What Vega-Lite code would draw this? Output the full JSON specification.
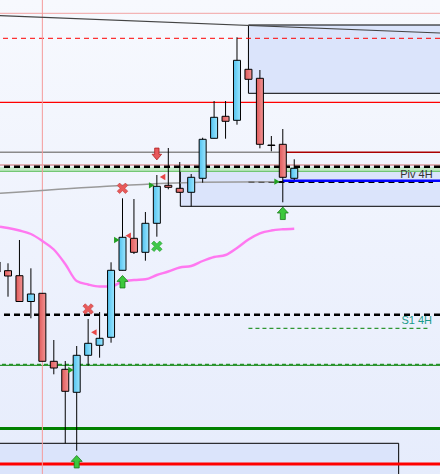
{
"$schema": "https://vega.github.io/schema/vega-lite/v6.json",
"width": 440, "height": 474, "padding": 0,
"autosize": {"type": "none"},
"background": "#f0f4fc",
"config": {"view": {"stroke": null}, "scale": {"continuousPadding": 0}},
"layer": [
{"data": {"values": [{"i": -0.699, "i2": 37.73, "p": 1.07, "p2": 1.1174}]},
 "mark": {"type": "rect", "clip": true, "fill": {"gradient": "linear", "x1": 0, "y1": 0, "x2": 0, "y2": 1, "stops": [{"offset": 0, "color": "#f7f9fe"}, {"offset": 1, "color": "#e6ecfc"}]}},
 "encoding": {"x": {"field": "i", "type": "quantitative", "scale": {"domain": [-0.699, 37.73], "nice": false, "zero": false, "padding": 0}, "axis": null}, "x2": {"field": "i2"},
  "y": {"field": "p", "type": "quantitative", "scale": {"domain": [1.07, 1.1174], "nice": false, "zero": false}, "axis": null}, "y2": {"field": "p2"}}},
{"data": {"values": [{"i": 21, "i2": 37.73, "p": 1.1149, "p2": 1.10807}, {"i": 15.05, "i2": 37.73, "p": 1.10073, "p2": 1.09677}, {"i": -0.699, "i2": 34.12, "p": 1.07307, "p2": 1.07}]},
 "mark": {"type": "rect", "clip": true, "fill": "#dbe4fb"},
 "encoding": {"x": {"field": "i", "type": "quantitative", "scale": {"domain": [-0.699, 37.73], "nice": false, "zero": false, "padding": 0}, "axis": null}, "x2": {"field": "i2"},
  "y": {"field": "p", "type": "quantitative", "scale": {"domain": [1.07, 1.1174], "nice": false, "zero": false}, "axis": null}, "y2": {"field": "p2"}}},
{"data": {"values": [{"i": 21, "i2": 37.73, "p": 1.1149}, {"i": 21, "i2": 37.73, "p": 1.10807}, {"i": 15.05, "i2": 37.73, "p": 1.09677}, {"i": -0.699, "i2": 34.12, "p": 1.07307}]},
 "mark": {"type": "rule", "clip": true, "color": "#000000", "strokeWidth": 1},
 "encoding": {"x": {"field": "i", "type": "quantitative", "scale": {"domain": [-0.699, 37.73], "nice": false, "zero": false, "padding": 0}, "axis": null}, "x2": {"field": "i2"},
  "y": {"field": "p", "type": "quantitative", "scale": {"domain": [1.07, 1.1174], "nice": false, "zero": false}, "axis": null}}},
{"data": {"values": [{"i": 21, "p": 1.1149, "p2": 1.10807}, {"i": 15.05, "p": 1.10073, "p2": 1.09677}, {"i": 34.12, "p": 1.07307, "p2": 1.07}]},
 "mark": {"type": "rule", "clip": true, "color": "#000000", "strokeWidth": 1},
 "encoding": {"x": {"field": "i", "type": "quantitative", "scale": {"domain": [-0.699, 37.73], "nice": false, "zero": false, "padding": 0}, "axis": null},
  "y": {"field": "p", "type": "quantitative", "scale": {"domain": [1.07, 1.1174], "nice": false, "zero": false}, "axis": null}, "y2": {"field": "p2"}}},
{"data": {"values": [{"i": -0.699, "i2": 37.73, "p": 1.10067, "p2": 1.10023}]},
 "mark": {"type": "rect", "clip": true, "fill": "#c3e9c6"},
 "encoding": {"x": {"field": "i", "type": "quantitative", "scale": {"domain": [-0.699, 37.73], "nice": false, "zero": false, "padding": 0}, "axis": null}, "x2": {"field": "i2"},
  "y": {"field": "p", "type": "quantitative", "scale": {"domain": [1.07, 1.1174], "nice": false, "zero": false}, "axis": null}, "y2": {"field": "p2"}}},
{"data": {"values": [{"p": 1.11607}]}, "mark": {"type": "rule", "color": "#f2a3a3", "strokeWidth": 1},
 "encoding": {"y": {"field": "p", "type": "quantitative", "scale": {"domain": [1.07, 1.1174], "nice": false, "zero": false}, "axis": null}}},
{"data": {"values": [{"p": 1.11357}]}, "mark": {"type": "rule", "color": "#ff0000", "strokeWidth": 1, "strokeDash": [5, 4]},
 "encoding": {"y": {"field": "p", "type": "quantitative", "scale": {"domain": [1.07, 1.1174], "nice": false, "zero": false}, "axis": null}}},
{"data": {"values": [{"p": 1.10717}]}, "mark": {"type": "rule", "color": "#ff0000", "strokeWidth": 1.2},
 "encoding": {"y": {"field": "p", "type": "quantitative", "scale": {"domain": [1.07, 1.1174], "nice": false, "zero": false}, "axis": null}}},
{"data": {"values": [{"p": 1.071}]}, "mark": {"type": "rule", "color": "#ff0000", "strokeWidth": 3},
 "encoding": {"y": {"field": "p", "type": "quantitative", "scale": {"domain": [1.07, 1.1174], "nice": false, "zero": false}, "axis": null}}},
{"data": {"values": [{"p": 1.1009}]}, "mark": {"type": "rule", "color": "#d07070", "strokeWidth": 1},
 "encoding": {"y": {"field": "p", "type": "quantitative", "scale": {"domain": [1.07, 1.1174], "nice": false, "zero": false}, "axis": null}}},
{"data": {"values": [{"p": 1.10027}]}, "mark": {"type": "rule", "color": "#5cbf5c", "strokeWidth": 1},
 "encoding": {"y": {"field": "p", "type": "quantitative", "scale": {"domain": [1.07, 1.1174], "nice": false, "zero": false}, "axis": null}}},
{"data": {"values": [{"p": 1.10073}, {"p": 1.08593}]}, "mark": {"type": "rule", "color": "#000000", "strokeWidth": 2.5, "strokeDash": [6, 4]},
 "encoding": {"y": {"field": "p", "type": "quantitative", "scale": {"domain": [1.07, 1.1174], "nice": false, "zero": false}, "axis": null}}},
{"data": {"values": [{"p": 1.08087}]}, "mark": {"type": "rule", "color": "#008000", "strokeWidth": 1},
 "encoding": {"y": {"field": "p", "type": "quantitative", "scale": {"domain": [1.07, 1.1174], "nice": false, "zero": false}, "axis": null}}},
{"data": {"values": [{"p": 1.08097}]}, "mark": {"type": "rule", "color": "#008000", "strokeWidth": 1, "strokeDash": [4, 3]},
 "encoding": {"y": {"field": "p", "type": "quantitative", "scale": {"domain": [1.07, 1.1174], "nice": false, "zero": false}, "axis": null}}},
{"data": {"values": [{"p": 1.07455}]}, "mark": {"type": "rule", "color": "#008000", "strokeWidth": 3},
 "encoding": {"y": {"field": "p", "type": "quantitative", "scale": {"domain": [1.07, 1.1174], "nice": false, "zero": false}, "axis": null}}},
{"data": {"values": [{"i": -0.699, "i2": 24, "p": 1.10217}]}, "mark": {"type": "rule", "clip": true, "color": "#8a8a8a", "strokeWidth": 1.5},
 "encoding": {"x": {"field": "i", "type": "quantitative", "scale": {"domain": [-0.699, 37.73], "nice": false, "zero": false, "padding": 0}, "axis": null}, "x2": {"field": "i2"},
  "y": {"field": "p", "type": "quantitative", "scale": {"domain": [1.07, 1.1174], "nice": false, "zero": false}, "axis": null}}},
{"data": {"values": [{"i": 24, "i2": 37.73, "p": 1.10217}]}, "mark": {"type": "rule", "clip": true, "color": "#aa0000", "strokeWidth": 1.5},
 "encoding": {"x": {"field": "i", "type": "quantitative", "scale": {"domain": [-0.699, 37.73], "nice": false, "zero": false, "padding": 0}, "axis": null}, "x2": {"field": "i2"},
  "y": {"field": "p", "type": "quantitative", "scale": {"domain": [1.07, 1.1174], "nice": false, "zero": false}, "axis": null}}},
{"data": {"values": [{"i": 21, "i2": 37.12, "p": 1.0992}]}, "mark": {"type": "rule", "clip": true, "color": "#000000", "strokeWidth": 2, "strokeDash": [6, 4]},
 "encoding": {"x": {"field": "i", "type": "quantitative", "scale": {"domain": [-0.699, 37.73], "nice": false, "zero": false, "padding": 0}, "axis": null}, "x2": {"field": "i2"},
  "y": {"field": "p", "type": "quantitative", "scale": {"domain": [1.07, 1.1174], "nice": false, "zero": false}, "axis": null}}},
{"data": {"values": [{"i": 24, "i2": 37.73, "p": 1.09933}]}, "mark": {"type": "rule", "clip": true, "color": "#0000ff", "strokeWidth": 2.5},
 "encoding": {"x": {"field": "i", "type": "quantitative", "scale": {"domain": [-0.699, 37.73], "nice": false, "zero": false, "padding": 0}, "axis": null}, "x2": {"field": "i2"},
  "y": {"field": "p", "type": "quantitative", "scale": {"domain": [1.07, 1.1174], "nice": false, "zero": false}, "axis": null}}},
{"data": {"values": [{"i": 21, "i2": 36.71, "p": 1.08457}]}, "mark": {"type": "rule", "clip": true, "color": "#008000", "strokeWidth": 1, "strokeDash": [4, 3]},
 "encoding": {"x": {"field": "i", "type": "quantitative", "scale": {"domain": [-0.699, 37.73], "nice": false, "zero": false, "padding": 0}, "axis": null}, "x2": {"field": "i2"},
  "y": {"field": "p", "type": "quantitative", "scale": {"domain": [1.07, 1.1174], "nice": false, "zero": false}, "axis": null}}},
{"data": {"values": [{"i": 3}]}, "mark": {"type": "rule", "color": "#f59a9a", "strokeWidth": 1},
 "encoding": {"x": {"field": "i", "type": "quantitative", "scale": {"domain": [-0.699, 37.73], "nice": false, "zero": false, "padding": 0}, "axis": null}}},
{"data": {"values": [{"i": -0.699, "p": 1.11583}, {"i": 37.73, "p": 1.1141}]}, "mark": {"type": "line", "clip": true, "color": "#444444", "strokeWidth": 1.2},
 "encoding": {"x": {"field": "i", "type": "quantitative", "scale": {"domain": [-0.699, 37.73], "nice": false, "zero": false, "padding": 0}, "axis": null},
  "y": {"field": "p", "type": "quantitative", "scale": {"domain": [1.07, 1.1174], "nice": false, "zero": false}, "axis": null}}},
{"data": {"values": [{"i": -0.699, "p": 1.09807}, {"i": 8.03, "p": 1.09873}, {"i": 16.77, "p": 1.09918}, {"i": 23.49, "p": 1.09923}]}, "mark": {"type": "line", "clip": true, "color": "#9a9a9a", "strokeWidth": 1.5, "interpolate": "monotone"},
 "encoding": {"x": {"field": "i", "type": "quantitative", "scale": {"domain": [-0.699, 37.73], "nice": false, "zero": false, "padding": 0}, "axis": null},
  "y": {"field": "p", "type": "quantitative", "scale": {"domain": [1.07, 1.1174], "nice": false, "zero": false}, "axis": null}}},
{"data": {"values": [
  {"i": -0.699, "p": 1.09473}, {"i": 0, "p": 1.0946}, {"i": 1, "p": 1.09435}, {"i": 2, "p": 1.094}, {"i": 3, "p": 1.0933},
  {"i": 4, "p": 1.09245}, {"i": 5, "p": 1.091}, {"i": 6, "p": 1.0893}, {"i": 7, "p": 1.08895}, {"i": 8, "p": 1.08875},
  {"i": 9, "p": 1.08875}, {"i": 10, "p": 1.08925}, {"i": 11, "p": 1.0894}, {"i": 12, "p": 1.08947}, {"i": 13, "p": 1.0899},
  {"i": 14, "p": 1.09025}, {"i": 15, "p": 1.09065}, {"i": 16, "p": 1.0908}, {"i": 17, "p": 1.0913}, {"i": 18, "p": 1.0917},
  {"i": 19, "p": 1.0919}, {"i": 20, "p": 1.0926}, {"i": 21, "p": 1.09345}, {"i": 22, "p": 1.09407}, {"i": 23, "p": 1.09435},
  {"i": 24, "p": 1.09447}, {"i": 25, "p": 1.09453}]},
 "mark": {"type": "line", "clip": true, "color": "#ff78f0", "strokeWidth": 2.4, "interpolate": "monotone"},
 "encoding": {"x": {"field": "i", "type": "quantitative", "scale": {"domain": [-0.699, 37.73], "nice": false, "zero": false, "padding": 0}, "axis": null},
  "y": {"field": "p", "type": "quantitative", "scale": {"domain": [1.07, 1.1174], "nice": false, "zero": false}, "axis": null}}},
{"data": {"name": "candles", "values": [
  {"i": -1, "o": 1.0912, "c": 1.0902, "h": 1.0912, "l": 1.0902, "d": "down"},
  {"i": 0, "o": 1.09033, "c": 1.0898, "h": 1.09107, "l": 1.08773, "d": "down"},
  {"i": 1, "o": 1.08983, "c": 1.08725, "h": 1.0934, "l": 1.08725, "d": "down"},
  {"i": 2, "o": 1.08725, "c": 1.088, "h": 1.09057, "l": 1.08557, "d": "up"},
  {"i": 3, "o": 1.08807, "c": 1.08127, "h": 1.08807, "l": 1.08127, "d": "down"},
  {"i": 4, "o": 1.08127, "c": 1.0806, "h": 1.0834, "l": 1.07997, "d": "down"},
  {"i": 5, "o": 1.08047, "c": 1.07827, "h": 1.0813, "l": 1.07307, "d": "down"},
  {"i": 6, "o": 1.07817, "c": 1.08187, "h": 1.0828, "l": 1.07233, "d": "up"},
  {"i": 7, "o": 1.08187, "c": 1.08307, "h": 1.0855, "l": 1.08083, "d": "up"},
  {"i": 8, "o": 1.08287, "c": 1.08357, "h": 1.0862, "l": 1.08163, "d": "up"},
  {"i": 9, "o": 1.08367, "c": 1.09037, "h": 1.09117, "l": 1.08313, "d": "up"},
  {"i": 10, "o": 1.09037, "c": 1.09367, "h": 1.09757, "l": 1.09037, "d": "up"},
  {"i": 11, "o": 1.09357, "c": 1.09217, "h": 1.0975, "l": 1.092, "d": "down"},
  {"i": 12, "o": 1.09217, "c": 1.09507, "h": 1.0962, "l": 1.09133, "d": "up"},
  {"i": 13, "o": 1.09507, "c": 1.09877, "h": 1.0999, "l": 1.09373, "d": "up"},
  {"i": 14, "o": 1.09887, "c": 1.09867, "h": 1.1026, "l": 1.09847, "d": "down"},
  {"i": 15, "o": 1.09857, "c": 1.09817, "h": 1.1012, "l": 1.0981, "d": "down"},
  {"i": 16, "o": 1.09817, "c": 1.09967, "h": 1.1, "l": 1.09677, "d": "up"},
  {"i": 17, "o": 1.09957, "c": 1.10347, "h": 1.10363, "l": 1.09913, "d": "up"},
  {"i": 18, "o": 1.10357, "c": 1.10567, "h": 1.1073, "l": 1.10357, "d": "up"},
  {"i": 19, "o": 1.10577, "c": 1.10527, "h": 1.1073, "l": 1.10353, "d": "down"},
  {"i": 20, "o": 1.10537, "c": 1.11137, "h": 1.11367, "l": 1.10493, "d": "up"},
  {"i": 21, "o": 1.11047, "c": 1.10947, "h": 1.11047, "l": 1.10947, "d": "down"},
  {"i": 22, "o": 1.10957, "c": 1.10297, "h": 1.1104, "l": 1.10257, "d": "down"},
  {"i": 23, "o": 1.1029, "c": 1.10285, "h": 1.1038, "l": 1.10227, "d": "doji"},
  {"i": 24, "o": 1.10297, "c": 1.09967, "h": 1.1045, "l": 1.09717, "d": "down"},
  {"i": 25, "o": 1.09957, "c": 1.10057, "h": 1.10147, "l": 1.0994, "d": "up"}]},
 "layer": [
  {"mark": {"type": "rule", "clip": true, "color": "#000000", "strokeWidth": 1},
   "encoding": {"x": {"field": "i", "type": "quantitative", "scale": {"domain": [-0.699, 37.73], "nice": false, "zero": false, "padding": 0}, "axis": null},
    "y": {"field": "h", "type": "quantitative", "scale": {"domain": [1.07, 1.1174], "nice": false, "zero": false}, "axis": null}, "y2": {"field": "l"}}},
  {"transform": [{"filter": "datum.d === 'up'"}],
   "mark": {"type": "bar", "clip": true, "orient": "vertical", "width": 7, "stroke": "#000000", "strokeWidth": 1, "fill": {"gradient": "linear", "x1": 0, "y1": 0, "x2": 1, "y2": 0, "stops": [{"offset": 0, "color": "#52c2ef"}, {"offset": 1, "color": "#9be6ff"}]}},
   "encoding": {"x": {"field": "i", "type": "quantitative", "scale": {"domain": [-0.699, 37.73], "nice": false, "zero": false, "padding": 0}, "axis": null},
    "y": {"field": "o", "type": "quantitative", "scale": {"domain": [1.07, 1.1174], "nice": false, "zero": false}, "axis": null}, "y2": {"field": "c"}}},
  {"transform": [{"filter": "datum.d === 'down'"}],
   "mark": {"type": "bar", "clip": true, "orient": "vertical", "width": 7, "stroke": "#000000", "strokeWidth": 1, "fill": {"gradient": "linear", "x1": 0, "y1": 0, "x2": 1, "y2": 0, "stops": [{"offset": 0, "color": "#e05a5a"}, {"offset": 1, "color": "#f29494"}]}},
   "encoding": {"x": {"field": "i", "type": "quantitative", "scale": {"domain": [-0.699, 37.73], "nice": false, "zero": false, "padding": 0}, "axis": null},
    "y": {"field": "o", "type": "quantitative", "scale": {"domain": [1.07, 1.1174], "nice": false, "zero": false}, "axis": null}, "y2": {"field": "c"}}},
  {"transform": [{"filter": "datum.d === 'doji'"}],
   "mark": {"type": "bar", "clip": true, "orient": "vertical", "width": 7, "stroke": "#000000", "strokeWidth": 1, "fill": "#000000"},
   "encoding": {"x": {"field": "i", "type": "quantitative", "scale": {"domain": [-0.699, 37.73], "nice": false, "zero": false, "padding": 0}, "axis": null},
    "y": {"field": "o", "type": "quantitative", "scale": {"domain": [1.07, 1.1174], "nice": false, "zero": false}, "axis": null}, "y2": {"field": "c"}}}
 ]},
{"data": {"values": [{"i": 13, "p": 1.102}]}, "mark": {"type": "point", "shape": "M0,1L0.8,0.05L0.37,0.05L0.37,-1L-0.37,-1L-0.37,0.05L-0.8,0.05Z", "size": 140, "filled": true, "fill": "#e8595c", "stroke": "#b02020", "strokeWidth": 0.8, "opacity": 1},
 "encoding": {"x": {"field": "i", "type": "quantitative", "scale": {"domain": [-0.699, 37.73], "nice": false, "zero": false, "padding": 0}, "axis": null},
  "y": {"field": "p", "type": "quantitative", "scale": {"domain": [1.07, 1.1174], "nice": false, "zero": false}, "axis": null}}},
{"data": {"values": [{"i": 10, "p": 1.08923}, {"i": 6, "p": 1.07123}, {"i": 24, "p": 1.09607}]}, "mark": {"type": "point", "shape": "M0,-1L0.88,-0.05L0.4,-0.05L0.4,1L-0.4,1L-0.4,-0.05L-0.88,-0.05Z", "size": 156, "filled": true, "fill": "#3cc83c", "stroke": "#1a7a1a", "strokeWidth": 0.8, "opacity": 1},
 "encoding": {"x": {"field": "i", "type": "quantitative", "scale": {"domain": [-0.699, 37.73], "nice": false, "zero": false, "padding": 0}, "axis": null},
  "y": {"field": "p", "type": "quantitative", "scale": {"domain": [1.07, 1.1174], "nice": false, "zero": false}, "axis": null}}},
{"data": {"values": [{"i": 13.5, "p": 1.0997}, {"i": 10.5, "p": 1.09383}, {"i": 7.5, "p": 1.08417}]}, "mark": {"type": "point", "shape": "triangle-left", "size": 40, "filled": true, "fill": "#e84848", "opacity": 1},
 "encoding": {"x": {"field": "i", "type": "quantitative", "scale": {"domain": [-0.699, 37.73], "nice": false, "zero": false, "padding": 0}, "axis": null},
  "y": {"field": "p", "type": "quantitative", "scale": {"domain": [1.07, 1.1174], "nice": false, "zero": false}, "axis": null}}},
{"data": {"values": [{"i": 5.5, "p": 1.0804}, {"i": 9.5, "p": 1.0934}, {"i": 12.55, "p": 1.09887}, {"i": 23.5, "p": 1.09923}]}, "mark": {"type": "point", "shape": "triangle-right", "size": 40, "filled": true, "fill": "#22a022", "opacity": 1},
 "encoding": {"x": {"field": "i", "type": "quantitative", "scale": {"domain": [-0.699, 37.73], "nice": false, "zero": false, "padding": 0}, "axis": null},
  "y": {"field": "p", "type": "quantitative", "scale": {"domain": [1.07, 1.1174], "nice": false, "zero": false}, "axis": null}}},
{"data": {"values": [{"i": 10, "p": 1.09857}, {"i": 7, "p": 1.0865}]}, "mark": {"type": "point", "shape": "M-1,-0.55L-0.55,-1L0,-0.45L0.55,-1L1,-0.55L0.45,0L1,0.55L0.55,1L0,0.45L-0.55,1L-1,0.55L-0.45,0Z", "size": 110, "filled": true, "fill": "#e85a5a", "stroke": "#c03a3a", "strokeWidth": 0.6, "opacity": 1},
 "encoding": {"x": {"field": "i", "type": "quantitative", "scale": {"domain": [-0.699, 37.73], "nice": false, "zero": false, "padding": 0}, "axis": null},
  "y": {"field": "p", "type": "quantitative", "scale": {"domain": [1.07, 1.1174], "nice": false, "zero": false}, "axis": null}}},
{"data": {"values": [{"i": 13, "p": 1.09277}]}, "mark": {"type": "point", "shape": "M-1,-0.55L-0.55,-1L0,-0.45L0.55,-1L1,-0.55L0.45,0L1,0.55L0.55,1L0,0.45L-0.55,1L-1,0.55L-0.45,0Z", "size": 110, "filled": true, "fill": "#40c84a", "stroke": "#22992a", "strokeWidth": 0.6, "opacity": 1},
 "encoding": {"x": {"field": "i", "type": "quantitative", "scale": {"domain": [-0.699, 37.73], "nice": false, "zero": false, "padding": 0}, "axis": null},
  "y": {"field": "p", "type": "quantitative", "scale": {"domain": [1.07, 1.1174], "nice": false, "zero": false}, "axis": null}}},
{"data": {"values": [{"i": 35.67, "p": 1.09995, "t": "Piv 4H"}]}, "mark": {"type": "text", "font": "Liberation Sans", "fontSize": 11, "color": "#333333", "align": "center", "baseline": "middle"},
 "encoding": {"x": {"field": "i", "type": "quantitative", "scale": {"domain": [-0.699, 37.73], "nice": false, "zero": false, "padding": 0}, "axis": null},
  "y": {"field": "p", "type": "quantitative", "scale": {"domain": [1.07, 1.1174], "nice": false, "zero": false}, "axis": null}, "text": {"field": "t"}}},
{"data": {"values": [{"i": 35.7, "p": 1.0853, "t": "S1 4H"}]}, "mark": {"type": "text", "font": "Liberation Sans", "fontSize": 11, "color": "#1a9a8a", "align": "center", "baseline": "middle"},
 "encoding": {"x": {"field": "i", "type": "quantitative", "scale": {"domain": [-0.699, 37.73], "nice": false, "zero": false, "padding": 0}, "axis": null},
  "y": {"field": "p", "type": "quantitative", "scale": {"domain": [1.07, 1.1174], "nice": false, "zero": false}, "axis": null}, "text": {"field": "t"}}}
]
}
